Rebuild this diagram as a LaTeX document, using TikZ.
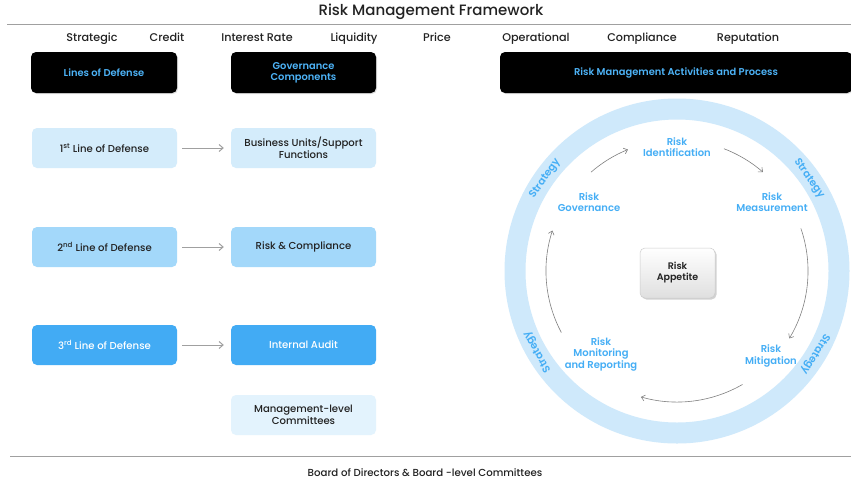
\documentclass[tikz,border=0pt]{standalone}
\usepackage{fontspec}
\setmainfont{Poppins}
\newfontfamily\pmed{Poppins Medium}
\newfontfamily\psemi{Poppins SemiBold}
\usetikzlibrary{arrows.meta,shadows}
\definecolor{boxA}{HTML}{D4ECFB}
\definecolor{boxB}{HTML}{A3D8FA}
\definecolor{boxC}{HTML}{42ABF4}
\definecolor{boxM}{HTML}{E3F3FD}
\definecolor{ringc}{HTML}{CFE9FB}
\definecolor{bluetxt}{HTML}{45AEF5}
\definecolor{hdrtxt}{HTML}{4DB3F7}
\definecolor{linec}{HTML}{A0A0A0}
\definecolor{txtc}{HTML}{222222}
\begin{document}
\begin{tikzpicture}[x=1pt,y=-1pt,
  hdr/.style={fill=black, rounded corners=5pt, minimum height=41pt, text=hdrtxt, font=\psemi\fontsize{9.9}{11}\selectfont, align=center, inner sep=2pt, drop shadow={opacity=0.25, shadow xshift=1pt, shadow yshift=-1pt}},
  lbox/.style={rounded corners=5pt, minimum width=145pt, minimum height=40pt, text=txtc, font=\pmed\fontsize{10.1}{11.5}\selectfont, align=center, inner sep=2pt},
  cat/.style={font=\pmed\fontsize{11.2}{13}\selectfont, text=txtc, anchor=base},
  act/.style={font=\psemi\fontsize{10}{11.5}\selectfont, text=bluetxt, align=center},
  strat/.style={font=\psemi\fontsize{10.4}{12}\selectfont, text=bluetxt},
  arr/.style={draw=linec, line width=1pt, -{Straight Barb[length=4pt,width=7pt]}},
  carr/.style={draw=gray, line width=0.6pt, -{Straight Barb[length=3.5pt,width=6pt]}},
  rule/.style={draw=linec, line width=0.8pt}
]
\useasboundingbox (0,0) rectangle (851,488);
\fill[white] (0,0) rectangle (851,488);

% title and rules
\node[font=\pmed\fontsize{15}{17}\selectfont, text=txtc] (title) at (431,12) {Risk Management Framework};
\coordinate (tl) at (7,24); \coordinate (tr) at (851,24);
\draw[rule] (tl) -- (tr);
\coordinate (bl) at (10,456); \coordinate (br) at (851,456);
\draw[rule] (bl) -- (br);
\node[font=\pmed\fontsize{10.2}{12}\selectfont, text=txtc] (board) at (425,473) {Board of Directors \& Board -level Committees};

% categories
\node[cat] (c1) at (92,41) {Strategic};
\node[cat] (c2) at (167,41) {Credit};
\node[cat] (c3) at (257,41) {Interest Rate};
\node[cat] (c4) at (354,41) {Liquidity};
\node[cat] (c5) at (437,41) {Price};
\node[cat] (c6) at (536,41) {Operational};
\node[cat] (c7) at (642,41) {Compliance};
\node[cat] (c8) at (748,41) {Reputation};

% headers
\node[hdr, minimum width=146pt] (h1) at (104,72.5) {Lines of Defense};
\node[hdr, minimum width=145pt] (h2) at (303.5,72.5) {Governance\\Components};
\node[hdr, minimum width=352pt] (h3) at (676,72.5) {Risk Management Activities and Process};

% left boxes
\node[lbox, fill=boxA] (l1) at (104.5,148) {1\textsuperscript{st} Line of Defense};
\node[lbox, fill=boxA] (g1) at (303.5,148) {Business Units/Support\\Functions};
\node[lbox, fill=boxB] (l2) at (104.5,247) {2\textsuperscript{nd} Line of Defense};
\node[lbox, fill=boxB] (g2) at (303.5,247) {Risk \& Compliance};
\node[lbox, fill=boxC, text=white] (l3) at (104.5,345) {3\textsuperscript{rd} Line of Defense};
\node[lbox, fill=boxC, text=white] (g3) at (303.5,345) {Internal Audit};
\node[lbox, fill=boxM] (g4) at (303.5,415) {Management-level\\Committees};

\draw[arr, shorten <=5pt, shorten >=7pt] (l1) -- (g1);
\draw[arr, shorten <=5pt, shorten >=7pt] (l2) -- (g2);
\draw[arr, shorten <=5pt, shorten >=7pt] (l3) -- (g3);

% ring
\coordinate (c) at (677,271);
\draw[ringc, line width=21pt] (c) circle[radius=162pt];
\node[strat, rotate=55] (s1) at ([shift={(145:161pt)}]c) {Strategy};
\node[strat, rotate=-55] (s2) at ([shift={(35:161pt)}]c) {Strategy};
\node[strat, rotate=120] (s3) at ([shift={(210:161pt)}]c) {Strategy};
\node[strat, rotate=-121] (s4) at ([shift={(-31:161pt)}]c) {Strategy};

% activities
\node[act] (aid) at (677,147) {Risk\\Identification};
\node[act] (agov) at (589,202) {Risk\\Governance};
\node[act] (ameas) at (772,202) {Risk\\Measurement};
\node[act] (amit) at (771,356) {Risk\\Mitigation};
\node[act] (amon) at (601,354) {Risk\\Monitoring\\and Reporting};

\node[rounded corners=5pt, minimum width=75pt, minimum height=50pt, top color=white, bottom color=gray!25, draw=gray!40, line width=0.5pt, font=\psemi\fontsize{9.5}{11}\selectfont, text=txtc, align=center, drop shadow={opacity=0.35, shadow xshift=1.5pt, shadow yshift=-1.5pt}] (app) at (677.5,273) {Risk\\Appetite};

% cycle arrows
\draw[carr] ([shift={(131:131pt)}]c) arc[start angle=131, end angle=112, radius=131pt];
\draw[carr] ([shift={(69:131pt)}]c) arc[start angle=69, end angle=49, radius=131pt];
\draw[carr] ([shift={(19:131pt)}]c) arc[start angle=19, end angle=-31, radius=131pt];
\draw[carr] ([shift={(-60:131pt)}]c) arc[start angle=-60, end angle=-106, radius=131pt];
\draw[carr] ([shift={(208:131pt)}]c) arc[start angle=208, end angle=162, radius=131pt];
\end{tikzpicture}
\end{document}
